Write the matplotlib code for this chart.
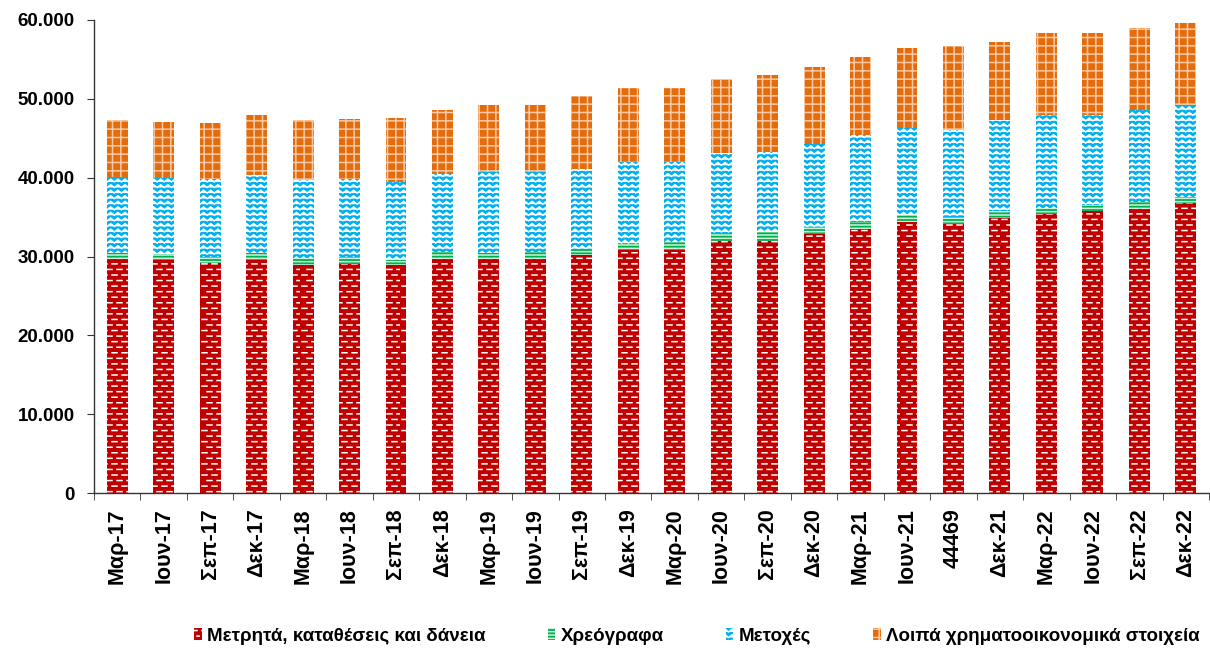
import warnings
import numpy as np
import matplotlib
matplotlib.use("Agg")
import matplotlib.pyplot as plt
import matplotlib.hatch as mhatch
from matplotlib.path import Path

warnings.filterwarnings("ignore")

categories = ["Μαρ-17", "Ιουν-17", "Σεπ-17", "Δεκ-17", "Μαρ-18", "Ιουν-18", "Σεπ-18", "Δεκ-18",
              "Μαρ-19", "Ιουν-19", "Σεπ-19", "Δεκ-19", "Μαρ-20", "Ιουν-20", "Σεπ-20", "Δεκ-20",
              "Μαρ-21", "Ιουν-21", "44469", "Δεκ-21", "Μαρ-22", "Ιουν-22", "Σεπ-22", "Δεκ-22"]

cash = [29680, 29520, 29140, 29520, 28920, 29010, 28880, 29680,
        29680, 29680, 30150, 30830, 30830, 31980, 31980, 32820,
        33450, 34420, 34140, 34850, 35430, 35770, 35990, 36750]
bonds = [800, 760, 760, 960, 930, 890, 720, 890,
         800, 890, 760, 720, 1010, 840, 1090, 920,
         930, 810, 870, 920, 760, 760, 890, 760]
shares = [9640, 9720, 9930, 9820, 9850, 9970, 9870, 9930,
          10200, 10110, 10230, 10440, 10150, 10310, 10230, 10530,
          10990, 11070, 11050, 11550, 11720, 11380, 11710, 11750]
other = [7190, 7060, 7070, 7650, 7620, 7580, 8120, 8085,
         8540, 8540, 9260, 9385, 9385, 9390, 9730, 9770,
         9940, 10150, 10600, 9850, 10400, 10400, 10360, 10320]

series_names = ["Μετρητά, καταθέσεις και δάνεια", "Χρεόγραφα", "Μετοχές",
                "Λοιπά χρηματοοικονομικά στοιχεία"]
yticks = [0, 10000, 20000, 30000, 40000, 50000, 60000]
ytick_labels = ["0", "10.000", "20.000", "30.000", "40.000", "50.000", "60.000"]


class WaveHatch(mhatch.HatchPatternBase):
    """zigzag rows, used for the shares bars ('~')"""
    def __init__(self, hatch, density):
        self.num_rows = int(hatch.count('~') * density)
        self.teeth = 14
        self.num_vertices = self.num_rows * (2 * self.teeth + 1)

    def set_vertices_and_codes(self, vertices, codes):
        n = 2 * self.teeth + 1
        xs = np.linspace(0.0, 1.0, n)
        amp = 0.25 / self.num_rows
        for r in range(self.num_rows):
            y0 = (r + 0.5) / self.num_rows
            vertices[r * n:(r + 1) * n, 0] = xs
            vertices[r * n:(r + 1) * n, 1] = y0 + amp * np.where(np.arange(n) % 2 == 0, -1, 1)
            codes[r * n] = Path.MOVETO
            codes[r * n + 1:(r + 1) * n] = Path.LINETO


class DashHatch(mhatch.HatchPatternBase):
    """staggered short dashes, used for the cash bars ('_')"""
    def __init__(self, hatch, density):
        self.num_rows = int(hatch.count('_') * density)
        self.dashes = 10
        self.num_vertices = self.num_rows * self.dashes * 2

    def set_vertices_and_codes(self, vertices, codes):
        period = 1.0 / self.dashes
        i = 0
        for r in range(self.num_rows):
            y0 = (r + 0.5) / self.num_rows
            off = period / 2 if r % 2 else 0.0
            for d in range(self.dashes):
                x0 = (d * period + off + period * 0.2) % 1.0
                x1 = min(x0 + period * 0.5, 1.0)
                vertices[i] = (x0, y0)
                vertices[i + 1] = (x1, y0)
                codes[i] = Path.MOVETO
                codes[i + 1] = Path.LINETO
                i += 2


mhatch._hatch_types.append(WaveHatch)
mhatch._hatch_types.append(DashHatch)

plt.rcParams['font.family'] = ['Liberation Sans', 'DejaVu Sans']
plt.rcParams['hatch.linewidth'] = 1.1

fig = plt.figure(figsize=(12.1, 6.53), dpi=100)
ax = fig.add_axes([94 / 1210, 1 - 493 / 653, 1115 / 1210, (493 - 20) / 653])

x = np.arange(len(categories))
w = 0.45
cash = np.array(cash)
bonds = np.array(bonds)
shares = np.array(shares)
other = np.array(other)

ax.bar(x, cash, w, color='#C00000', edgecolor='white', linewidth=0, hatch='___',
       label=series_names[0])
ax.bar(x, bonds, w, bottom=cash, color='#00B050', edgecolor='#CFF2DA', linewidth=0,
       hatch='-----', label=series_names[1])
ax.bar(x, shares, w, bottom=cash + bonds, color='#00B0F0', edgecolor='white', linewidth=0,
       hatch='~~~', label=series_names[2])
ax.bar(x, other, w, bottom=cash + bonds + shares, color='#E46C0A', edgecolor='#F8C9A8',
       linewidth=0, hatch='++', label=series_names[3])

ax.set_xlim(-0.5, len(categories) - 0.5)
ax.set_ylim(0, 60000)
ax.set_yticks(yticks)
ax.set_yticklabels(ytick_labels, fontsize=13.5, fontweight='bold')
ax.set_xticks(x)
ax.set_xticklabels(categories, rotation=90, fontsize=15.5, fontweight='bold', va='top')
ax.set_xticks(np.arange(len(categories) + 1) - 0.5, minor=True)
ax.tick_params(axis='x', which='major', length=0, pad=11)
ax.tick_params(axis='x', which='minor', length=5, direction='out', color='#333333')
ax.tick_params(axis='y', length=5, direction='out', pad=9, color='#333333')

for side in ['top', 'right']:
    ax.spines[side].set_visible(False)
for side in ['left', 'bottom']:
    ax.spines[side].set_color('#333333')
    ax.spines[side].set_linewidth(1.0)

fig.legend(loc='center', bbox_to_anchor=(0.576, 0.026), ncol=4, frameon=False,
           prop={'size': 13.5, 'weight': 'bold'}, handlelength=0.4, handleheight=0.6,
           handletextpad=0.3, columnspacing=3.3, borderpad=0.2)

fig.savefig('out.png', dpi=100)
